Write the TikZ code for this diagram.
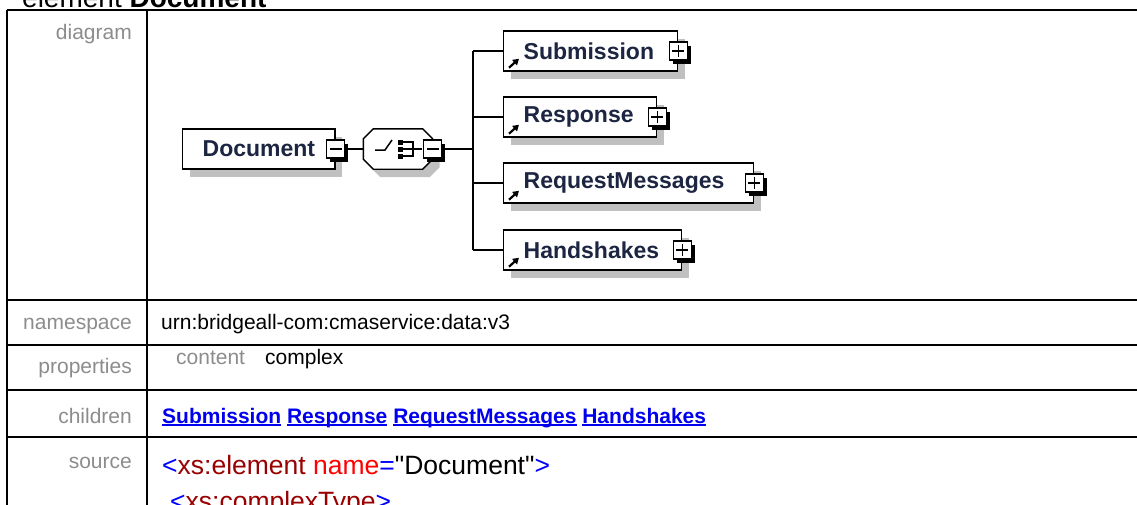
\documentclass[tikz,border=0pt]{standalone}
\usepackage{fontspec}
\setmainfont{Liberation Sans}
\newfontfamily\xscodefont{Liberation Sans}
\usetikzlibrary{arrows.meta,calc,positioning,shadows}
\definecolor{xsink}{HTML}{1C2541}
\definecolor{xsgrey}{HTML}{8C8C8C}
\definecolor{xsshade}{HTML}{C0C0C0}
\definecolor{xsanchor}{HTML}{0000EE}
\definecolor{xsblue}{HTML}{0000FF}
\definecolor{xsmaroon}{HTML}{990000}
\definecolor{xsred}{HTML}{FF0000}
\newcommand\xsuline[1]{\leavevmode\setbox0\hbox{\bfseries #1}\rlap{\rule[-2.6pt]{\wd0}{1.4pt}}\box0\relax}
\tikzset{
  xs rule/.style={draw=black, line width=2pt},
  xs head/.style={font=\fontsize{21}{25}\selectfont, text=xsgrey, anchor=base east, inner sep=0pt},
  xs cell/.style={font=\fontsize{21}{25}\selectfont, text=black, anchor=base west, inner sep=0pt},
  xs code/.style={font=\xscodefont\fontsize{26.5}{30}\selectfont, text=black, anchor=base west, inner sep=0pt},
  xs elem/.style={draw=black, line width=1.4pt, fill=white, text=xsink,
    font=\fontsize{23}{27}\selectfont\bfseries, minimum height=40pt, inner ysep=0pt,
    inner xsep=20pt, align=left, anchor=west,
    drop shadow={shadow xshift=7pt, shadow yshift=-8pt, fill=xsshade, opacity=1}},
  xs shade/.style={fill=xsshade},
  xs octo/.style={draw=black, line width=1.4pt, fill=white},
  xs toggle/.style={draw=black, line width=1.2pt, fill=white, minimum width=18pt,
    minimum height=18pt, inner sep=0pt,
    general shadow={shadow xshift=3.5pt, shadow yshift=-3.5pt, fill=black}},
  xs minus/.style={xs toggle, path picture={
    \draw[line width=1.2pt] ([xshift=3pt]path picture bounding box.west)
      -- ([xshift=-3pt]path picture bounding box.east);}},
  xs plus/.style={xs toggle, path picture={
    \draw[line width=1.2pt] ([xshift=3pt]path picture bounding box.west)
      -- ([xshift=-3pt]path picture bounding box.east);
    \draw[line width=1.2pt] ([yshift=-3pt]path picture bounding box.north)
      -- ([yshift=3pt]path picture bounding box.south);}},
  xs wire/.style={draw=black, line width=1.4pt},
  xs ref/.style={-{Triangle[length=6pt,width=7pt]}, line width=2.2pt}
}

\begin{document}
\begin{tikzpicture}[x=1pt, y=-1pt]
  \useasboundingbox (0,0) rectangle (1137,504);
  % table frame
  \draw[xs rule] (7,10) -- (1145,10);
  \draw[xs rule] (7,10) -- (7,515);
  \draw[xs rule] (147,10) -- (147,515);
  \foreach \y in {300,345,390,437} {\draw[xs rule] (7,\y) -- (1145,\y);}
  \node[anchor=base west, inner sep=0pt, font=\fontsize{28}{32}\selectfont] (title) at (22,7) {element \textbf{Document}};
  % row headings
  \foreach \nm/\y/\t in {hdiag/39/diagram,hns/329/namespace,hprop/373/properties,hkids/423/children,hsrc/468/source} {
    \node[xs head] (\nm) at (132,\y) {\t};
  }
  \node[xs cell] (ns) at (161,329) {urn:bridgeall-com:cmaservice:data:v3};
  \node[xs cell, text=xsgrey] (propkey) at (176,364) {content};
  \node[xs cell] (propval) at (265,364) {complex};
  \node[xs cell, text=xsanchor] (kids) at (162,423) {\xsuline{Submission} \xsuline{Response} \xsuline{RequestMessages} \xsuline{Handshakes}};
  \node[xs code] (src1) at (162,474) {\textcolor{xsblue}{<}\textcolor{xsmaroon}{xs:element} \textcolor{xsred}{name}\textcolor{xsblue}{=}"Document"\textcolor{xsblue}{>}};
  \node[xs code] (src2) at (170,510) {\textcolor{xsblue}{<}\textcolor{xsmaroon}{xs:complexType}\textcolor{xsblue}{>}};
  % diagram
  \node[xs elem, minimum width=151pt, align=center] (doc) at (182,149) {Document};
  \node[xs minus] (docm) at (doc.east) {};
  \node[minimum width=69pt, minimum height=40pt, inner sep=0pt] (seq) at (398,149) {};
  \foreach \dx/\dy/\sty in {7/8/xs shade,0/0/xs octo} {
    \path[\sty] ($(seq.north west)+(\dx+10,\dy)$) -- ($(seq.north east)+(\dx-10,\dy)$)
      -- ($(seq.north east)+(\dx,\dy+10)$) -- ($(seq.south east)+(\dx,\dy-10)$)
      -- ($(seq.south east)+(\dx-10,\dy)$) -- ($(seq.south west)+(\dx+10,\dy)$)
      -- ($(seq.south west)+(\dx,\dy-10)$) -- ($(seq.north west)+(\dx,\dy+10)$) -- cycle;
  }
  \draw[line width=1.5pt] ($(seq.center)+(-23,1)$) -- ($(seq.center)+(-13,1)$) -- ($(seq.center)+(-6,-9)$);
  \foreach \d in {-7,0,7} {\fill ($(seq.center)+(-0.5,\d-2.5)$) rectangle ($(seq.center)+(4.5,\d+2.5)$);}
  \draw[line width=1.5pt] ($(seq.center)+(5,-7)$) -- ($(seq.center)+(15,-7)$) -- ($(seq.center)+(15,7)$) -- ($(seq.center)+(5,7)$);
  \draw[line width=1.5pt] ($(seq.center)+(5,0)$) -- ($(seq.center)+(24,0)$);
  \node[xs minus] (seqm) at (seq.east) {};
  \coordinate (bus) at (473,149);
  \draw[xs wire] (docm.east) -- (seq.west);
  \draw[xs wire] (seqm.east) -- (bus);
  \foreach \nm/\lab/\y/\tw in {sub/Submission/51/134,resp/Response/117/113,req/RequestMessages/183/210,hand/Handshakes/250/138} {
    \node[xs elem, text width=\tw pt] (\nm) at (503,\y) {\lab};
    \node[xs plus] (\nm p) at (\nm.east) {};
    \draw[xs ref] ($(\nm.south west)+(6,-4)$) -- ($(\nm.south west)+(16,-13)$);
    \draw[xs wire] (bus |- \nm.west) -- (\nm.west);
  }
  \draw[xs wire] (bus |- sub.west) -- (bus |- hand.west);
\end{tikzpicture}
\end{document}
